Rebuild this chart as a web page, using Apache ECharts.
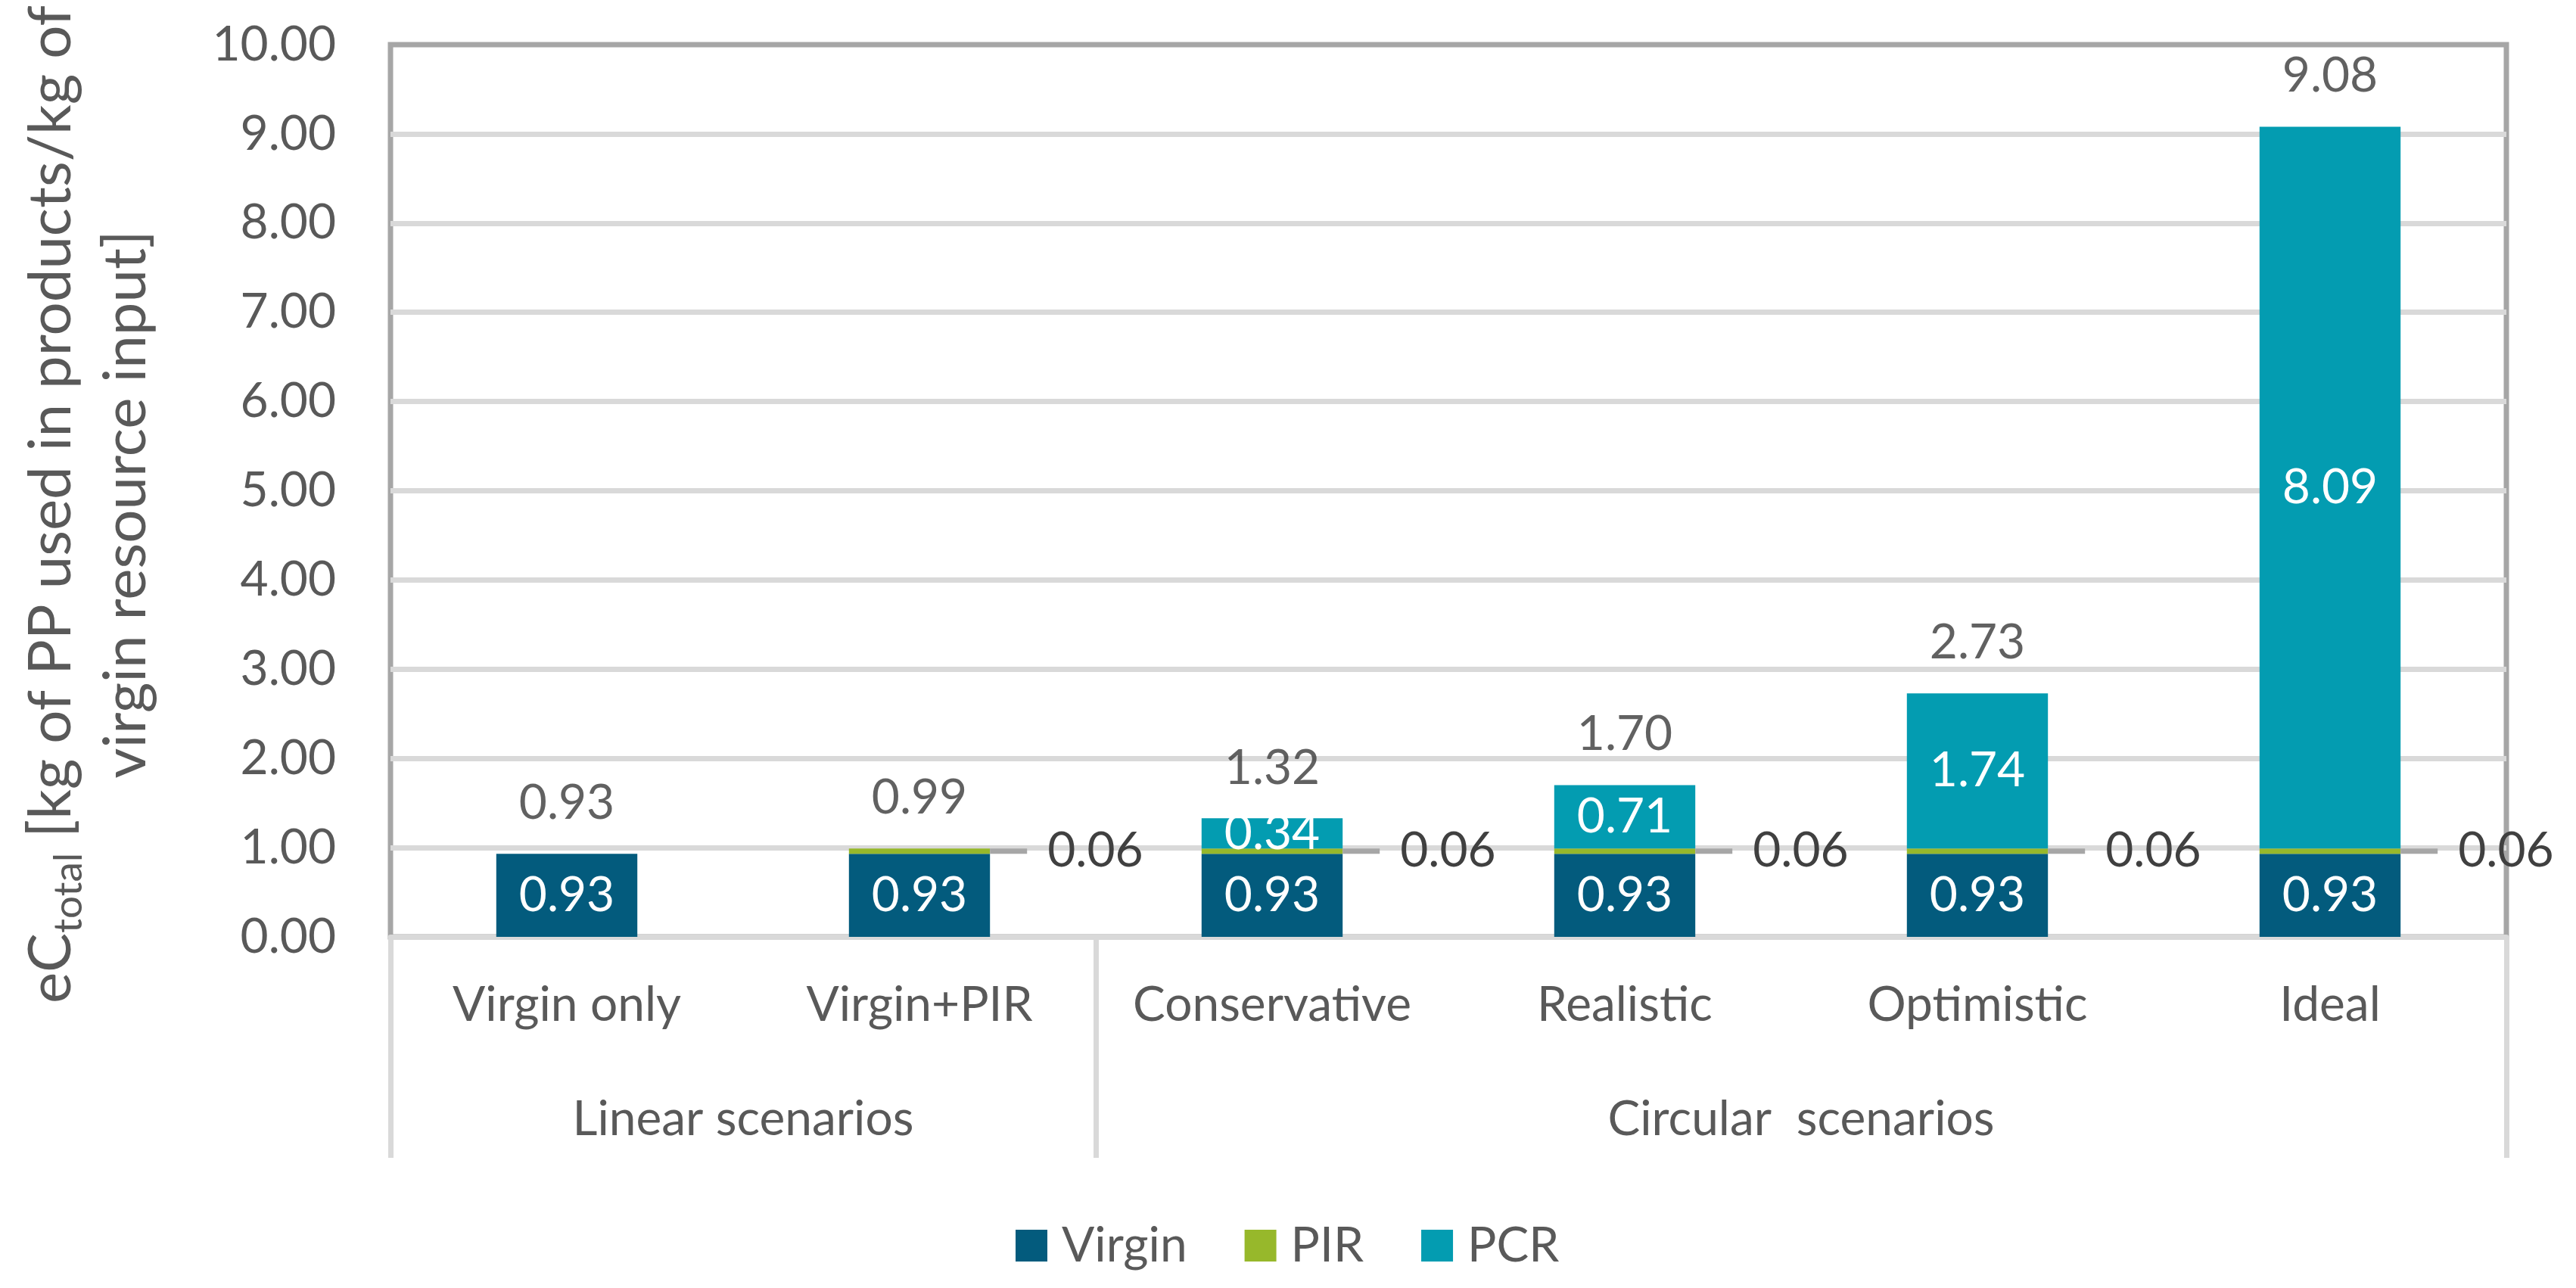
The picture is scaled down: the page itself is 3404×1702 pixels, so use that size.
<!DOCTYPE html>
<html>
<head>
<meta charset="utf-8">
<script src="https://cdn.jsdelivr.net/npm/echarts@6/dist/echarts.min.js"></script>
<style>html,body{margin:0;padding:0;background:#fff;}#c{width:3404px;height:1702px;}</style>
</head>
<body>
<div id="c"></div>
<script>
const categories = ['Virgin only', 'Virgin+PIR', 'Conservative', 'Realistic', 'Optimistic', 'Ideal'];
const groups = ['Linear scenarios', 'Circular  scenarios'];
const groupSizes = [2, 4];
const seriesNames = ['Virgin', 'PIR', 'PCR'];
const virgin = [0.93, 0.93, 0.93, 0.93, 0.93, 0.93];
const pir = [0, 0.06, 0.06, 0.06, 0.06, 0.06];
const pcr = [0, 0, 0.34, 0.71, 1.74, 8.09];
const totals = [0.93, 0.99, 1.32, 1.70, 2.73, 9.08];
const yMin = 0, yMax = 10, yStep = 1;

const colors = ['#035B7D', '#97B82B', '#039CB1'];
const FONT = 'Lato';

// group boundaries / centers on a 0..N value scale
const bounds = [0];
groupSizes.forEach(s => bounds.push(bounds[bounds.length - 1] + s));
const centers = groupSizes.map((s, i) => bounds[i] + s / 2);

const chart = echarts.init(document.getElementById('c'));
const option = {
  animation: false,
  textStyle: { fontFamily: FONT },
  color: colors,
  legend: {
    data: seriesNames,
    left: 1337, top: 1609,
    icon: 'rect', itemWidth: 42, itemHeight: 42, itemGap: 76,
    textStyle: { fontSize: 64, color: '#595959', fontFamily: FONT, padding: [0, 0, 0, 14] }
  },
  grid: {
    left: 516, right: 92, top: 59, bottom: 464,
    outerBoundsMode: 'none', containLabel: false,
    show: true, borderColor: '#A6A6A6', borderWidth: 7, backgroundColor: 'transparent'
  },
  xAxis: [
    {
      type: 'category', data: categories,
      axisLine: { show: true, lineStyle: { color: '#D9D9D9', width: 7 } },
      axisTick: { show: false },
      axisLabel: { fontSize: 64, color: '#595959', margin: 58, fontFamily: FONT, interval: 0 },
      splitLine: { show: false }
    },
    {
      type: 'value', min: 0, max: categories.length, position: 'bottom',
      axisLine: { show: false },
      splitLine: { show: false },
      axisTick: { show: true, customValues: bounds, length: 292, lineStyle: { color: '#D9D9D9', width: 7 } },
      axisLabel: {
        customValues: centers, fontSize: 64, color: '#595959', margin: 209, fontFamily: FONT,
        formatter: v => { const i = centers.indexOf(v); return i >= 0 ? groups[i] : ''; }
      }
    }
  ],
  yAxis: {
    type: 'value', min: yMin, max: yMax, interval: yStep,
    axisLine: { show: false }, axisTick: { show: false },
    axisLabel: { fontSize: 64, color: '#595959', margin: 72, fontFamily: FONT, formatter: v => v.toFixed(2) },
    splitLine: { show: true, showMinLine: false, showMaxLine: false, lineStyle: { color: '#D9D9D9', width: 7 } },
    name: '{m|eC}{s|total}{m| [kg of PP used in products/kg of}\n{m|virgin resource input]}',
    nameLocation: 'middle', nameRotate: 90, nameGap: 300,
    nameTextStyle: {
      color: '#595959', fontFamily: FONT, fontSize: 78, lineHeight: 99,
      padding: [0, 36, 0, 0],
      rich: {
        m: { fontSize: 78, lineHeight: 99, color: '#595959', fontFamily: FONT },
        s: { fontSize: 53, lineHeight: 30, verticalAlign: 'bottom', color: '#595959', fontFamily: FONT }
      }
    }
  },
  series: [
    {
      name: seriesNames[0], type: 'bar', stack: 'a', barWidth: '40%', data: virgin,
      label: { show: true, position: 'inside', color: '#fff', fontSize: 64, fontFamily: FONT,
        formatter: p => p.value > 0 ? p.value.toFixed(2) : '' }
    },
    {
      name: seriesNames[1], type: 'bar', stack: 'a', barWidth: '40%', data: pir,
      label: { show: true, position: 'right', distance: 0,
        formatter: p => p.value > 0 ? '{ln|}{t|' + p.value.toFixed(2) + '}' : '',
        rich: {
          ln: { width: 49, height: 7, backgroundColor: '#A6A6A6' },
          t: { fontSize: 64, color: '#404040', fontFamily: FONT, padding: [0, 0, 0, 27] }
        }
      }
    },
    {
      name: seriesNames[2], type: 'bar', stack: 'a', barWidth: '40%', data: pcr,
      label: { show: true, position: 'inside', color: '#fff', fontSize: 64, fontFamily: FONT,
        formatter: p => p.value > 0 ? p.value.toFixed(2) : '' }
    },
    {
      name: 'Total', type: 'scatter', data: totals, symbolSize: 0.1,
      itemStyle: { color: 'rgba(0,0,0,0)' }, silent: true, z: 5,
      label: { show: true, position: 'top', distance: 35, color: '#3A3A3A', fontSize: 64, fontFamily: FONT,
        formatter: p => p.value.toFixed(2) }
    }
  ]
};
chart.setOption(option);
</script>
</body>
</html>
